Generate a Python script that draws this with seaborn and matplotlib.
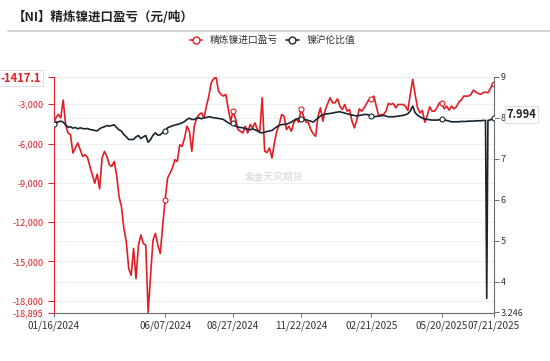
import numpy as np
import pandas as pd
import matplotlib
matplotlib.use("Agg")
import matplotlib.pyplot as plt
import matplotlib.transforms as mtransforms
from matplotlib.lines import Line2D
import seaborn as sns

# ---------------- data ----------------
title = "【NI】精炼镍进口盈亏（元/吨）"
series_names = ["精炼镍进口盈亏", "镍沪伦比值"]
watermark = "紫金天风期货"

start_date, end_date = "2024-01-16", "2025-07-21"
holidays = ["2024-02-09", "2024-02-12", "2024-02-13", "2024-02-14", "2024-02-15", "2024-02-16",
            "2024-04-04", "2024-04-05", "2024-05-01", "2024-05-02", "2024-05-03", "2024-06-10",
            "2024-09-16", "2024-09-17", "2024-10-01", "2024-10-02", "2024-10-03", "2024-10-04",
            "2024-10-07", "2025-01-01", "2025-01-28", "2025-01-29", "2025-01-30", "2025-01-31",
            "2025-02-03", "2025-02-04", "2025-04-04", "2025-05-01", "2025-05-02", "2025-05-05",
            "2025-06-02"]
tick_dates = ["2024-01-16", "2024-06-07", "2024-08-27", "2024-11-22", "2025-02-21", "2025-05-20", "2025-07-21"]
extra_marker_dates = ["2024-03-11"]

# trading-day positions of the observations (every other session, daily around the July spike)
sample_positions = list(range(0, 357, 2)) + [357, 358, 360, 362, 363]

import_profit = [
    -4420, -4036, -3780, -4036, -2680, -4547, -5186, -5314, -6720, -6337,
    -5953, -6465, -6976, -6848, -7053, -7743, -8382, -9022, -8331, -9456,
    -7104, -6593, -6976, -7615, -7743, -7360, -8382, -10044, -10812, -12474,
    -13496, -15542, -16053, -14008, -16309, -13752, -12985, -13624, -13752, -18895,
    -16053, -13369, -12857, -13752, -14392, -12218, -10300, -8638, -8255, -7871,
    -7232, -7360, -6100, -6210, -5570, -4675, -5059, -6593, -4675, -4036,
    -3780, -3653, -4036, -3141, -2374, -1351, -1044, -950, -1990, -2246,
    -2374, -2246, -3346, -4292, -3550, -4100, -4931, -5059, -5187, -4675,
    -5187, -4547, -4803, -4420, -4931, -5059, -2502, -6593, -6670, -6337,
    -7104, -5954, -5059, -4547, -3780, -3908, -4931, -4675, -5059, -4420,
    -4113, -4369, -3346, -3908, -4369, -4369, -4931, -5238, -5443, -3908,
    -3269, -4292, -3397, -2937, -2502, -2885, -2885, -2579, -3141, -3397,
    -3013, -3525, -3397, -4292, -4803, -4164, -3346, -3525, -3269, -2937,
    -2630, -2630, -2374, -3141, -3908, -3780, -3780, -3525, -2937, -3013,
    -2937, -3269, -3013, -3013, -3013, -3141, -3474, -2246, -1096, -2246,
    -3269, -3653, -3474, -4369, -3857, -3192, -3525, -3525, -3269, -2885,
    -2937, -3346, -3141, -3448, -3141, -3346, -3192, -2834, -2681, -2374,
    -2374, -2374, -2246, -1914, -2067, -2170, -2246, -2118, -2067,
    -2090, -2118, -1812, -1402, -1417.1,
]

ratio = [
    7.847, 7.871, 7.895, 7.912, 7.887, 7.822, 7.765, 7.773, 7.741, 7.757,
    7.724, 7.749, 7.732, 7.724, 7.732, 7.708, 7.700, 7.684, 7.675, 7.724,
    7.757, 7.773, 7.806, 7.790, 7.806, 7.822, 7.757, 7.700, 7.667, 7.586,
    7.529, 7.464, 7.464, 7.464, 7.529, 7.561, 7.488, 7.529, 7.561, 7.398,
    7.464, 7.569, 7.627, 7.569, 7.578, 7.635, 7.675, 7.749, 7.773, 7.798,
    7.814, 7.830, 7.847, 7.871, 7.903, 7.952, 7.985, 7.952, 7.952, 7.977,
    7.993, 7.969, 7.993, 8.001, 8.018, 8.009, 7.993, 7.985, 7.977, 7.969,
    7.952, 7.912, 7.871, 7.846, 7.863, 7.789, 7.765, 7.757, 7.749, 7.732,
    7.716, 7.700, 7.724, 7.700, 7.675, 7.634, 7.626, 7.643, 7.659, 7.675,
    7.683, 7.732, 7.773, 7.806, 7.830, 7.830, 7.838, 7.863, 7.887, 7.928,
    7.960, 7.977, 7.969, 7.953, 7.945, 7.929, 7.912, 7.888, 7.937, 7.986,
    8.035, 8.067, 8.083, 8.092, 8.100, 8.108, 8.124, 8.132, 8.140, 8.124,
    8.108, 8.092, 8.075, 8.059, 8.051, 8.035, 8.051, 8.059, 8.075, 8.075,
    8.059, 8.035, 8.018, 8.026, 8.035, 8.043, 8.051, 8.035, 8.018, 8.018,
    8.018, 8.026, 8.035, 8.043, 8.051, 8.067, 8.092, 8.157, 8.279, 8.116,
    8.059, 8.018, 7.986, 7.961, 7.953, 7.945, 7.937, 7.937, 7.937, 7.945,
    7.953, 7.937, 7.929, 7.912, 7.896, 7.896, 7.896, 7.896, 7.904, 7.904,
    7.904, 7.912, 7.912, 7.912, 7.920, 7.920, 7.920, 7.929, 7.929,
    3.59, 7.930, 7.940, 7.975, 7.994,
]

left_ticks = [-878, -3000, -6000, -9000, -12000, -15000, -18000, -18895]
right_ticks = [3.246, 4, 5, 6, 7, 8, 9]
right_tick_labels = ["3.246", "4", "5", "6", "7", "8", "9"]

# ---------------- styling ----------------
RED = "#e31d24"
DARK = "#17252f"
GRID = "#ececec"

sns.set_style("white")
plt.rcParams["font.family"] = ["Noto Sans CJK SC", "DejaVu Sans"]
plt.rcParams["axes.unicode_minus"] = False

cal = pd.bdate_range(start_date, end_date)
cal = cal[~cal.isin(pd.to_datetime(holidays))]
dates = cal[sample_positions]
pos = cal.get_indexer(dates)

df = pd.DataFrame({"date": dates, "pos": pos, "profit": import_profit, "ratio": ratio})

tick_pos = cal.get_indexer(pd.to_datetime(tick_dates))
marker_pos = sorted(set(list(tick_pos) + list(cal.get_indexer(pd.to_datetime(extra_marker_dates)))))
markevery = [i for i, p in enumerate(pos) if p in marker_pos]

W, H = 550, 361
fig = plt.figure(figsize=(W / 100, H / 100), dpi=100)
L, R, T, B = 53.5, 494, 76.5, 312.5
ax = fig.add_axes([L / W, 1 - B / H, (R - L) / W, (B - T) / H])
ax2 = ax.twinx()

sns.lineplot(data=df, x="pos", y="profit", ax=ax, color=RED, lw=1.2, estimator=None,
             errorbar=None, marker="o", markevery=markevery, markersize=3.6,
             markerfacecolor="white", markeredgecolor=RED, markeredgewidth=0.8, zorder=3)
sns.lineplot(data=df, x="pos", y="ratio", ax=ax2, color=DARK, lw=1.2, estimator=None,
             errorbar=None, marker="o", markevery=markevery, markersize=3.6,
             markerfacecolor="white", markeredgecolor=DARK, markeredgewidth=0.8, zorder=3)

ax.set_xlim(0, len(cal) - 1)
ax.set_ylim(min(left_ticks), max(left_ticks))
ax2.set_ylim(min(right_ticks), max(right_ticks))
for a in (ax, ax2):
    a.set_xlabel("")
    a.set_ylabel("")

ax.set_xticks(tick_pos)
ax.set_xticklabels([pd.Timestamp(d).strftime("%m/%d/%Y") for d in tick_dates])
ax.set_yticks(left_ticks)
ax.set_yticklabels([f"{v:,}" for v in left_ticks])
ax2.set_yticks(right_ticks)
ax2.set_yticklabels(right_tick_labels)

# grids: left ticks via ax, right ticks drawn in ax so they stay under the lines
ax.grid(axis="y", color=GRID, lw=0.6, zorder=0)
ax.grid(axis="x", visible=False)
ax2.grid(False)
blend = mtransforms.blended_transform_factory(ax.transAxes, ax2.transData)
for v in right_ticks[1:]:
    ax.add_line(Line2D([0, 1], [v, v], transform=blend, color=GRID, lw=0.6, zorder=0.5))

for a in (ax, ax2):
    a.spines["top"].set_visible(False)
ax.spines["right"].set_visible(False)
ax2.spines["left"].set_visible(False)
ax2.spines["bottom"].set_visible(False)
ax.spines["left"].set_color(RED)
ax.spines["left"].set_linewidth(0.8)
ax.spines["bottom"].set_color("#6b6b6b")
ax.spines["bottom"].set_linewidth(0.8)
ax2.spines["right"].set_color("#6b6b6b")
ax2.spines["right"].set_linewidth(0.8)

ax.tick_params(axis="y", colors=RED, labelsize=6.5, length=4.5, width=0.7, pad=2.5, left=True)
ax.tick_params(axis="x", colors="#6b6b6b", labelcolor="#333333", labelsize=7.2, length=3,
               width=0.7, pad=2.5, bottom=True)
ax2.tick_params(axis="y", colors="#6b6b6b", labelcolor="#333333", labelsize=6.5, length=3.5,
                width=0.7, pad=1.5, right=True)

# watermark
ax.text(0.501, 0.575, watermark, transform=ax.transAxes, ha="center", va="center",
        color="#d3d3d3", fontsize=7, zorder=0)

# last-value labels
ax.annotate(f"{import_profit[-1]:.1f}", xy=(0, import_profit[-1]), xycoords=ax.get_yaxis_transform(),
            xytext=(-23.5, 4), textcoords="offset points", ha="center", va="center",
            fontsize=8, fontweight="bold", color=RED, annotation_clip=False, zorder=10,
            bbox=dict(boxstyle="square,pad=0.15", fc="white", ec="#d8d8d8", lw=0.6))
ax2.annotate(f"{ratio[-1]:.3f}", xy=(1, ratio[-1]), xycoords=ax2.get_yaxis_transform(),
             xytext=(19.8, 2.4), textcoords="offset points", ha="center", va="center",
             fontsize=8, fontweight="bold", color="#222222", annotation_clip=False, zorder=10,
             bbox=dict(boxstyle="square,pad=0.15", fc="white", ec="#d8d8d8", lw=0.6))

# title + separator
fig.text(13 / W, 1 - 17 / H, title, ha="left", va="center", fontsize=9, fontweight="bold",
         color="#222222")
fig.add_artist(Line2D([8 / W, 1.0], [1 - 31 / H, 1 - 31 / H], transform=fig.transFigure,
                      color="#d4d4d4", lw=1.5))

# legend
handles = [
    Line2D([], [], color=RED, lw=1.2, marker="o", ms=5, mfc="white", mec=RED, mew=1.0),
    Line2D([], [], color=DARK, lw=1.2, marker="o", ms=5, mfc="white", mec=DARK, mew=1.0),
]
fig.legend(handles, series_names, loc="center", bbox_to_anchor=(0.4955, 1 - 40 / H), ncol=2,
           frameon=False, fontsize=7, handlelength=1.3, handletextpad=0.8, columnspacing=0.8,
           labelcolor="#333333", borderaxespad=0, borderpad=0)

fig.savefig("out.png", dpi=100)
